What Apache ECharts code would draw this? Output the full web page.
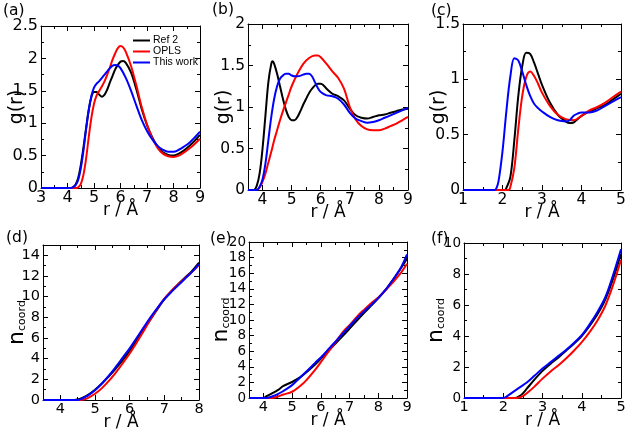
<!DOCTYPE html>
<html>
<head>
<meta charset="utf-8">
<script src="https://cdn.jsdelivr.net/npm/echarts@6/dist/echarts.min.js"></script>
<style>
* { margin: 0; padding: 0; }
body { background: #fff; }
#main { width: 625px; height: 431px; }
</style>
</head>
<body>
<div id="main"></div>
<script>
// ---- data: [r, value] ----
// (a) g(r)
const aRef2 = [[3,0],[4.1,0],[4.2,0.01],[4.3,0.05],[4.4,0.15],[4.5,0.35],[4.6,0.62],[4.7,0.92],[4.8,1.2],[4.9,1.4],[5.0,1.48],[5.1,1.48],[5.2,1.44],[5.3,1.41],[5.4,1.44],[5.5,1.52],[5.6,1.63],[5.7,1.73],[5.8,1.83],[5.9,1.9],[6.0,1.95],[6.1,1.96],[6.2,1.93],[6.4,1.78],[6.6,1.52],[6.8,1.22],[7.0,0.97],[7.2,0.78],[7.4,0.64],[7.6,0.55],[7.8,0.51],[8.0,0.5],[8.2,0.53],[8.4,0.58],[8.6,0.65],[8.8,0.73],[9.0,0.82]];
const aOpls = [[3,0],[4.35,0],[4.4,0.01],[4.5,0.06],[4.6,0.2],[4.7,0.45],[4.8,0.78],[4.9,1.08],[5.0,1.3],[5.1,1.43],[5.2,1.5],[5.3,1.57],[5.4,1.65],[5.5,1.75],[5.6,1.86],[5.7,1.98],[5.8,2.08],[5.9,2.16],[6.0,2.19],[6.1,2.17],[6.2,2.1],[6.4,1.88],[6.6,1.58],[6.8,1.25],[7.0,0.98],[7.2,0.77],[7.4,0.62],[7.6,0.53],[7.8,0.49],[8.0,0.48],[8.2,0.5],[8.4,0.55],[8.6,0.61],[8.8,0.68],[9.0,0.76]];
const aThis = [[3,0],[4.1,0],[4.2,0.01],[4.3,0.04],[4.4,0.12],[4.5,0.3],[4.6,0.57],[4.7,0.9],[4.8,1.2],[4.9,1.42],[5.0,1.55],[5.1,1.61],[5.2,1.65],[5.3,1.7],[5.4,1.75],[5.5,1.8],[5.6,1.85],[5.7,1.89],[5.8,1.9],[5.9,1.89],[6.0,1.85],[6.2,1.7],[6.4,1.5],[6.6,1.27],[6.8,1.05],[7.0,0.88],[7.2,0.75],[7.4,0.65],[7.6,0.59],[7.8,0.56],[8.0,0.56],[8.2,0.59],[8.4,0.64],[8.6,0.7],[8.8,0.78],[9.0,0.87]];
// (b) g(r)
const bRef2 = [[3.5,0],[3.7,0],[3.8,0.05],[3.9,0.2],[4.0,0.5],[4.1,0.9],[4.2,1.3],[4.3,1.52],[4.35,1.55],[4.4,1.52],[4.5,1.4],[4.6,1.25],[4.7,1.1],[4.8,0.97],[4.9,0.88],[5.0,0.84],[5.1,0.84],[5.2,0.88],[5.3,0.95],[5.4,1.03],[5.5,1.1],[5.6,1.17],[5.7,1.22],[5.8,1.26],[5.9,1.28],[6.0,1.28],[6.1,1.26],[6.2,1.22],[6.4,1.16],[6.6,1.13],[6.8,1.08],[7.0,0.98],[7.2,0.9],[7.4,0.87],[7.6,0.86],[7.8,0.88],[8.0,0.9],[8.2,0.91],[8.4,0.93],[8.6,0.95],[8.8,0.97],[9.0,0.98]];
const bOpls = [[3.5,0],[3.8,0],[3.9,0.03],[4.0,0.1],[4.1,0.2],[4.2,0.33],[4.3,0.46],[4.4,0.6],[4.5,0.72],[4.6,0.84],[4.7,0.95],[4.8,1.05],[4.9,1.15],[5.0,1.25],[5.2,1.4],[5.4,1.52],[5.6,1.59],[5.8,1.62],[5.9,1.62],[6.0,1.6],[6.2,1.52],[6.4,1.43],[6.6,1.35],[6.8,1.22],[7.0,1.0],[7.2,0.85],[7.4,0.77],[7.6,0.73],[7.8,0.72],[8.0,0.72],[8.2,0.74],[8.4,0.77],[8.6,0.8],[8.8,0.84],[9.0,0.88]];
const bThis = [[3.5,0],[3.8,0],[3.9,0.04],[4.0,0.13],[4.1,0.32],[4.2,0.6],[4.3,0.88],[4.4,1.1],[4.5,1.25],[4.6,1.34],[4.7,1.38],[4.8,1.4],[4.9,1.4],[5.0,1.38],[5.1,1.37],[5.2,1.37],[5.4,1.39],[5.5,1.4],[5.6,1.4],[5.7,1.37],[5.8,1.3],[5.9,1.23],[6.0,1.18],[6.2,1.14],[6.4,1.13],[6.6,1.1],[6.8,1.03],[7.0,0.93],[7.2,0.86],[7.4,0.83],[7.6,0.81],[7.8,0.82],[8.0,0.84],[8.2,0.87],[8.4,0.9],[8.6,0.93],[8.8,0.96],[9.0,0.99]];
// (c) g(r)
const cRef2 = [[1,0],[2.05,0],[2.1,0.02],[2.2,0.12],[2.3,0.45],[2.4,0.85],[2.5,1.12],[2.6,1.24],[2.7,1.23],[2.8,1.15],[2.9,1.05],[3.0,0.95],[3.2,0.79],[3.4,0.68],[3.6,0.62],[3.7,0.605],[3.8,0.61],[3.9,0.64],[4.0,0.67],[4.2,0.71],[4.4,0.74],[4.6,0.77],[4.8,0.82],[5.0,0.87]];
const cOpls = [[1,0],[2.15,0],[2.2,0.03],[2.3,0.2],[2.4,0.55],[2.5,0.85],[2.6,1.02],[2.7,1.07],[2.8,1.03],[2.9,0.96],[3.0,0.88],[3.2,0.76],[3.4,0.68],[3.6,0.64],[3.8,0.63],[4.0,0.67],[4.2,0.72],[4.4,0.75],[4.6,0.79],[4.8,0.84],[5.0,0.89]];
const cThis = [[1,0],[1.8,0],[1.85,0.02],[1.9,0.08],[2.0,0.35],[2.1,0.72],[2.2,1.03],[2.3,1.19],[2.4,1.17],[2.5,1.07],[2.6,0.95],[2.7,0.85],[2.8,0.78],[2.9,0.74],[3.0,0.71],[3.2,0.66],[3.4,0.63],[3.6,0.62],[3.7,0.63],[3.8,0.67],[3.9,0.69],[4.0,0.7],[4.2,0.7],[4.4,0.72],[4.6,0.76],[4.8,0.8],[5.0,0.84]];
// (d) n_coord
const dRef2 = [[3.5,0],[4.4,0],[4.5,0.05],[4.6,0.15],[4.8,0.5],[5.0,1.0],[5.2,1.6],[5.4,2.3],[5.6,3.05],[5.8,3.85],[6.0,4.75],[6.2,5.75],[6.4,6.8],[6.6,7.8],[6.8,8.8],[7.0,9.75],[7.2,10.5],[7.4,11.2],[7.6,11.85],[7.8,12.5],[8.0,13.3]];
const dOpls = [[3.5,0],[4.6,0],[4.7,0.07],[4.8,0.2],[5.0,0.6],[5.2,1.15],[5.4,1.85],[5.6,2.65],[5.8,3.55],[6.0,4.5],[6.2,5.55],[6.4,6.65],[6.6,7.8],[6.8,8.85],[7.0,9.8],[7.2,10.55],[7.4,11.2],[7.6,11.8],[7.8,12.4],[8.0,13.05]];
const dThis = [[3.5,0],[4.5,0],[4.6,0.1],[4.8,0.45],[5.0,0.95],[5.2,1.6],[5.4,2.35],[5.6,3.2],[5.8,4.1],[6.0,5.0],[6.2,6.0],[6.4,7.0],[6.6,8.0],[6.8,8.9],[7.0,9.75],[7.2,10.45],[7.4,11.1],[7.6,11.75],[7.8,12.4],[8.0,13.15]];
// (e) n_coord
const eRef2 = [[3.5,0],[4.0,0],[4.1,0.2],[4.3,0.6],[4.5,1.0],[4.7,1.55],[5.0,2.05],[5.3,2.7],[5.5,3.3],[5.8,4.3],[6.0,5.05],[6.3,6.2],[6.5,6.95],[6.8,8.1],[7.0,8.9],[7.3,10.1],[7.5,10.9],[7.8,12.0],[8.0,12.8],[8.3,14.1],[8.5,15.1],[8.8,16.7],[9.0,17.9]];
const eOpls = [[3.5,0],[4.3,0],[4.5,0.2],[4.7,0.45],[5.0,0.8],[5.3,1.6],[5.5,2.3],[5.8,3.6],[6.0,4.6],[6.3,6.1],[6.5,7.1],[6.8,8.6],[7.0,9.35],[7.3,10.6],[7.5,11.3],[7.8,12.3],[8.0,12.9],[8.3,14.0],[8.5,14.8],[8.8,16.1],[9.0,17.2]];
const eThis = [[3.5,0],[4.1,0],[4.3,0.2],[4.5,0.5],[4.7,0.9],[5.0,1.65],[5.3,2.7],[5.5,3.4],[5.8,4.5],[6.0,5.2],[6.3,6.4],[6.5,7.2],[6.8,8.4],[7.0,9.2],[7.3,10.4],[7.5,11.1],[7.8,12.1],[8.0,12.8],[8.3,14.1],[8.5,15.1],[8.8,16.8],[9.0,18.4]];
// (f) n_coord
const fRef2 = [[1,0],[2.3,0],[2.4,0.1],[2.5,0.3],[2.6,0.6],[2.8,1.2],[3.0,1.75],[3.2,2.2],[3.4,2.6],[3.6,3.05],[3.8,3.5],[4.0,4.0],[4.2,4.65],[4.4,5.4],[4.6,6.35],[4.8,7.7],[5.0,9.3]];
const fOpls = [[1,0],[2.35,0],[2.4,0.03],[2.5,0.12],[2.6,0.3],[2.8,0.75],[3.0,1.25],[3.2,1.7],[3.4,2.1],[3.6,2.55],[3.8,3.05],[4.0,3.6],[4.2,4.25],[4.4,5.0],[4.6,5.95],[4.8,7.3],[5.0,8.9]];
const fThis = [[1,0],[2.0,0],[2.1,0.12],[2.2,0.3],[2.4,0.65],[2.6,1.0],[2.8,1.45],[3.0,1.9],[3.2,2.3],[3.4,2.7],[3.6,3.1],[3.8,3.55],[4.0,4.05],[4.2,4.75],[4.4,5.55],[4.6,6.5],[4.8,7.95],[5.0,9.6]];

const seriesNames = ['Ref 2', 'OPLS', 'This work'];
const seriesColors = ['#000000', '#ff0000', '#0000ff'];
const panelLabels = ['(a)', '(b)', '(c)', '(d)', '(e)', '(f)'];

// tick values (major carry labels)
const aXMajor = [3, 4, 5, 6, 7, 8, 9];
const aXMinor = [3.5, 4.5, 5.5, 6.5, 7.5, 8.5];
const aYMajor = [0, 0.5, 1, 1.5, 2, 2.5];
const aYMinor = [0.25, 0.75, 1.25, 1.75, 2.25];
const bXMajor = [4, 5, 6, 7, 8, 9];
const bXMinor = [4.5, 5.5, 6.5, 7.5, 8.5];
const bYMajor = [0, 0.5, 1, 1.5, 2];
const bYMinor = [0.25, 0.75, 1.25, 1.75];
const cXMajor = [1, 2, 3, 4, 5];
const cXMinor = [1.5, 2.5, 3.5, 4.5];
const cYMajor = [0, 0.5, 1, 1.5];
const cYMinor = [0.25, 0.75, 1.25];
const dXMajor = [4, 5, 6, 7, 8];
const dXMinor = [4.5, 5.5, 6.5, 7.5];
const dYMajor = [0, 2, 4, 6, 8, 10, 12, 14];
const dYMinor = [1, 3, 5, 7, 9, 11, 13];
const eXMajor = [4, 5, 6, 7, 8, 9];
const eXMinor = [4.5, 5.5, 6.5, 7.5, 8.5];
const eYMajor = [0, 2, 4, 6, 8, 10, 12, 14, 16, 18, 20];
const eYMinor = [1, 3, 5, 7, 9, 11, 13, 15, 17, 19];
const fXMajor = [1, 2, 3, 4, 5];
const fXMinor = [1.5, 2.5, 3.5, 4.5];
const fYMajor = [0, 2, 4, 6, 8, 10];
const fYMinor = [1, 3, 5, 7, 9];

const panels = [
  {grid: {left: 41, top: 26, width: 159, height: 162}, fsX: 16, fsY: 16, gap: 14, x: [3, 9], y: [0, 2.5], xMajor: aXMajor, xMinor: aXMinor, yMajor: aYMajor, yMinor: aYMinor, yName: 'g', data: [aRef2, aOpls, aThis], label: [3, 3]},
  {grid: {left: 248, top: 24, width: 160, height: 166}, fsX: 15.5, fsY: 15.5, gap: 14, x: [3.5, 9], y: [0, 2], xMajor: bXMajor, xMinor: bXMinor, yMajor: bYMajor, yMinor: bYMinor, yName: 'g', data: [bRef2, bOpls, bThis], label: [212, 2]},
  {grid: {left: 463, top: 24, width: 158, height: 166}, fsX: 15.5, fsY: 15.5, gap: 14, x: [1, 5], y: [0, 1.5], xMajor: cXMajor, xMinor: cXMinor, yMajor: cYMajor, yMinor: cYMinor, yName: 'g', data: [cRef2, cOpls, cThis], label: [431, 3]},
  {grid: {left: 43, top: 245, width: 156, height: 155}, fsX: 14.5, fsY: 14.5, gap: 15, x: [3.5, 8], y: [0, 15], xMajor: dXMajor, xMinor: dXMinor, yMajor: dYMajor, yMinor: dYMinor, yName: 'n', data: [dRef2, dOpls, dThis], label: [6, 230]},
  {grid: {left: 249, top: 242, width: 158, height: 156}, fsX: 14.5, fsY: 13.5, gap: 17, x: [3.5, 9], y: [0, 20], xMajor: eXMajor, xMinor: eXMinor, yMajor: eYMajor, yMinor: eYMinor, yName: 'n', data: [eRef2, eOpls, eThis], label: [210, 231]},
  {grid: {left: 464, top: 243, width: 157, height: 155}, fsX: 14.5, fsY: 13.5, gap: 17, x: [1, 5], y: [0, 10], xMajor: fXMajor, xMinor: fXMinor, yMajor: fYMajor, yMinor: fYMinor, yName: 'n', data: [fRef2, fOpls, fThis], label: [431, 231]}
];

const FONT = 'DejaVu Sans';

function makeAxis(pos, g, range, ticks, len, withLabels, lineOn, fs) {
  const isX = pos === 'bottom' || pos === 'top';
  return {
    type: 'value', gridIndex: g, position: pos, min: range[0], max: range[1],
    axisLine: {show: lineOn, onZero: false, lineStyle: {color: '#000', width: 1}},
    axisTick: {show: true, inside: true, length: len, customValues: ticks, lineStyle: {color: '#000', width: 1}},
    axisLabel: {
      show: withLabels, customValues: ticks, color: '#000', fontSize: fs || 16, lineHeight: fs || 16,
      fontFamily: FONT, margin: isX ? 2 : 3, showMinLabel: true, showMaxLabel: true, hideOverlap: false
    },
    splitLine: {show: false},
    minorTick: {show: false},
    nameMoveOverlap: false,
    silent: true
  };
}

const grids = [], xAxes = [], yAxes = [], series = [], graphics = [];

panels.forEach(function (p, g) {
  grids.push(Object.assign({outerBoundsMode: 'none', containLabel: false}, p.grid));

  const xi = xAxes.length;
  const bottom = makeAxis('bottom', g, p.x, p.xMajor, 5, true, true, p.fsX);
  bottom.name = 'r / Å';
  bottom.nameLocation = 'middle';
  bottom.nameGap = 14;
  bottom.nameTextStyle = {color: '#000', fontSize: 17, fontFamily: FONT};
  xAxes.push(bottom);
  xAxes.push(makeAxis('bottom', g, p.x, p.xMinor, 3, false, false));
  xAxes.push(makeAxis('top', g, p.x, p.xMajor, 5, false, true));
  xAxes.push(makeAxis('top', g, p.x, p.xMinor, 3, false, false));

  const yi = yAxes.length;
  const left = makeAxis('left', g, p.y, p.yMajor, 5, true, true, p.fsY);
  left.name = p.yName === 'g' ? 'g(r)' : '{n|n}{s|coord}';
  left.nameLocation = 'middle';
  left.nameGap = p.gap;
  left.nameTextStyle = {
    color: '#000', fontSize: 19, fontFamily: FONT,
    rich: {
      n: {fontSize: 22, fontFamily: FONT, color: '#000', lineHeight: 22, verticalAlign: 'top'},
      s: {fontSize: 11, fontFamily: FONT, color: '#000', lineHeight: 11, verticalAlign: 'top', padding: [11, 0, 0, 0]}
    }
  };
  yAxes.push(left);
  yAxes.push(makeAxis('left', g, p.y, p.yMinor, 3, false, false));
  yAxes.push(makeAxis('right', g, p.y, p.yMajor, 5, false, true));
  yAxes.push(makeAxis('right', g, p.y, p.yMinor, 3, false, false));

  p.data.forEach(function (d, k) {
    series.push({
      name: seriesNames[k],
      type: 'line',
      xAxisIndex: xi,
      yAxisIndex: yi,
      data: d,
      smooth: 0.35,
      showSymbol: false,
      symbol: 'none',
      itemStyle: {color: seriesColors[k]},
      lineStyle: {color: seriesColors[k], width: 2},
      silent: true
    });
  });

  graphics.push({
    type: 'text', left: p.label[0], top: p.label[1],
    style: {text: panelLabels[g], fill: '#000', fontSize: 15.5, fontFamily: FONT}
  });
});

const chart = echarts.init(document.getElementById('main'));
chart.setOption({
  animation: false,
  backgroundColor: '#fff',
  textStyle: {fontFamily: FONT},
  grid: grids,
  xAxis: xAxes,
  yAxis: yAxes,
  series: series,
  graphic: graphics,
  legend: {
    data: seriesNames,
    orient: 'vertical',
    left: 133,
    top: 35,
    icon: 'rect',
    itemWidth: 17,
    itemHeight: 2,
    itemGap: 0,
    padding: 0,
    selectedMode: false,
    textStyle: {color: '#000', fontSize: 10.5, fontFamily: 'Liberation Sans', lineHeight: 10, padding: [0, 0, 0, -2]}
  }
});
</script>
</body>
</html>
